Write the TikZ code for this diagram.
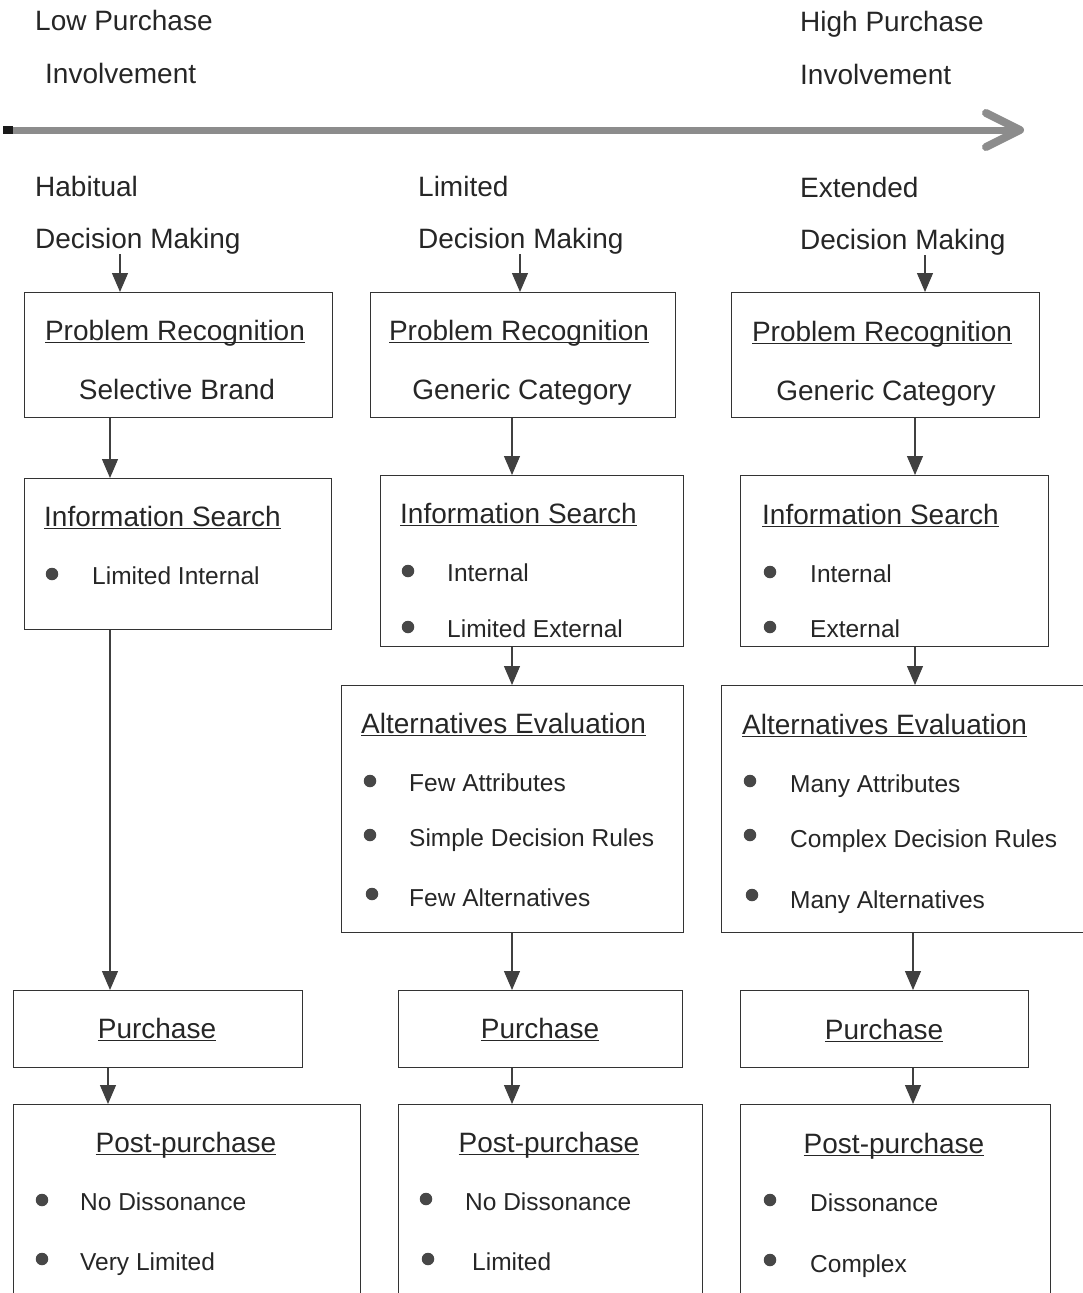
\documentclass[tikz,border=0pt]{standalone}
\usepackage{fontspec}
\setmainfont{Liberation Sans}
\usetikzlibrary{arrows.meta}
\newcommand{\ulin}[1]{\setbox0=\hbox{#1}\rlap{\rule[-3pt]{\wd0}{1.1pt}}\box0}
\tikzset{
  stagebox/.style = {shape=rectangle, draw=black!80, line width=1.3pt,
                     anchor=north west, inner sep=0pt},
  word/.style     = {anchor=west},
  item/.style     = {anchor=west, font=\fontsize{24.5}{30}\selectfont},
  head/.style     = {anchor=center},
  dot/.style      = {circle, fill=black!72, minimum size=12.5pt, inner sep=0pt,
                     text height=0pt, text depth=0pt},
  arr/.style      = {draw=black!75, line width=1.2pt,
                     -{Triangle[width=16pt,length=19pt]}}
}
\begin{document}
\begin{tikzpicture}
  [
    x = 1pt, y = -1pt,
    every node/.style = {font=\fontsize{28}{34}\selectfont, text=black!85,
                         inner sep=0pt, text height=20pt, text depth=6pt}
  ]
  \useasboundingbox (0,0) rectangle (1083,1293);
  \clip (0,0) rectangle (1083,1293);

  % involvement axis
  \node [word] (low1)  at (35,23)  {Low Purchase};
  \node [word] (low2)  at (45,76)  {Involvement};
  \node [word] (high1) at (800,24) {High Purchase};
  \node [word] (high2) at (800,77) {Involvement};
  \coordinate (axL) at (4,130);
  \coordinate (axR) at (1020,130);
  \draw [line width=7pt, black!45] (axL) -- (axR);
  \fill [black!90] (3,126) rectangle (13,134);
  \draw [line width=8pt, black!45, line cap=round, line join=round]
    (986,113) -- (axR) -- (986,147);

  % column heads
  \node [word] (hab1) at (35,189)  {Habitual};
  \node [word] (hab2) at (35,241)  {Decision Making};
  \node [word] (lim1) at (418,189) {Limited};
  \node [word] (lim2) at (418,241) {Decision Making};
  \node [word] (ext1) at (800,190) {Extended};
  \node [word] (ext2) at (800,242) {Decision Making};

  % habitual
  \node [stagebox, minimum width=308pt, minimum height=125pt] (pr1) at (24,292) {};
  \node [head] (pr1t) at (175,333) {\ulin{Problem Recognition}};
  \node [head] (pr1s) at (177,392) {Selective Brand};
  \node [stagebox, minimum width=307pt, minimum height=151pt] (is1) at (24,478) {};
  \node [word] (is1t) at (44,519) {\ulin{Information Search}};
  \node [dot]  (is1d1) at (52,574) {};
  \node [item] (is1a) at (92,577) {Limited Internal};
  \node [stagebox, minimum width=289pt, minimum height=77pt] (pu1) at (13,990) {};
  \node [head] (pu1t) at (157,1031) {\ulin{Purchase}};
  \node [stagebox, minimum width=347pt, minimum height=240pt] (pp1) at (13,1104) {};
  \node [head] (pp1t) at (186,1145) {\ulin{Post-purchase}};
  \node [dot]  (pp1d1) at (42,1200) {};
  \node [item] (pp1a) at (80,1203) {No Dissonance};
  \node [dot]  (pp1d2) at (42,1259) {};
  \node [item] (pp1b) at (80,1263) {Very Limited};

  % limited
  \node [stagebox, minimum width=305pt, minimum height=125pt] (pr2) at (370,292) {};
  \node [head] (pr2t) at (519,333) {\ulin{Problem Recognition}};
  \node [head] (pr2s) at (522,392) {Generic Category};
  \node [stagebox, minimum width=303pt, minimum height=171pt] (is2) at (380,475) {};
  \node [word] (is2t) at (400,516) {\ulin{Information Search}};
  \node [dot]  (is2d1) at (408,571) {};
  \node [item] (is2a) at (447,574) {Internal};
  \node [dot]  (is2d2) at (408,627) {};
  \node [item] (is2b) at (447,630) {Limited External};
  \node [stagebox, minimum width=342pt, minimum height=247pt] (ae2) at (341,685) {};
  \node [word] (ae2t) at (361,726) {\ulin{Alternatives Evaluation}};
  \node [dot]  (ae2d1) at (370,781) {};
  \node [item] (ae2a) at (409,784) {Few Attributes};
  \node [dot]  (ae2d2) at (370,835) {};
  \node [item] (ae2b) at (409,839) {Simple Decision Rules};
  \node [dot]  (ae2d3) at (372,894) {};
  \node [item] (ae2c) at (409,899) {Few Alternatives};
  \node [stagebox, minimum width=284pt, minimum height=77pt] (pu2) at (398,990) {};
  \node [head] (pu2t) at (540,1031) {\ulin{Purchase}};
  \node [stagebox, minimum width=304pt, minimum height=240pt] (pp2) at (398,1104) {};
  \node [head] (pp2t) at (549,1145) {\ulin{Post-purchase}};
  \node [dot]  (pp2d1) at (426,1199) {};
  \node [item] (pp2a) at (465,1203) {No Dissonance};
  \node [dot]  (pp2d2) at (428,1259) {};
  \node [item] (pp2b) at (472,1263) {Limited};

  % extended
  \node [stagebox, minimum width=308pt, minimum height=125pt] (pr3) at (731,292) {};
  \node [head] (pr3t) at (882,334) {\ulin{Problem Recognition}};
  \node [head] (pr3s) at (886,393) {Generic Category};
  \node [stagebox, minimum width=308pt, minimum height=171pt] (is3) at (740,475) {};
  \node [word] (is3t) at (762,517) {\ulin{Information Search}};
  \node [dot]  (is3d1) at (770,572) {};
  \node [item] (is3a) at (810,575) {Internal};
  \node [dot]  (is3d2) at (770,627) {};
  \node [item] (is3b) at (810,630) {External};
  \node [stagebox, minimum width=380pt, minimum height=247pt] (ae3) at (721,685) {};
  \node [word] (ae3t) at (742,727) {\ulin{Alternatives Evaluation}};
  \node [dot]  (ae3d1) at (750,781) {};
  \node [item] (ae3a) at (790,785) {Many Attributes};
  \node [dot]  (ae3d2) at (750,835) {};
  \node [item] (ae3b) at (790,840) {Complex Decision Rules};
  \node [dot]  (ae3d3) at (752,895) {};
  \node [item] (ae3c) at (790,901) {Many Alternatives};
  \node [stagebox, minimum width=288pt, minimum height=77pt] (pu3) at (740,990) {};
  \node [head] (pu3t) at (884,1032) {\ulin{Purchase}};
  \node [stagebox, minimum width=310pt, minimum height=240pt] (pp3) at (740,1104) {};
  \node [head] (pp3t) at (894,1146) {\ulin{Post-purchase}};
  \node [dot]  (pp3d1) at (770,1200) {};
  \node [item] (pp3a) at (810,1204) {Dissonance};
  \node [dot]  (pp3d2) at (770,1260) {};
  \node [item] (pp3b) at (810,1265) {Complex};

  % connector columns
  \coordinate (c1h) at (120,0);
  \coordinate (c1)  at (110,0);
  \coordinate (c1p) at (108,0);
  \coordinate (c2h) at (520,0);
  \coordinate (c2)  at (512,0);
  \coordinate (c3h) at (925,0);
  \coordinate (c3)  at (915,0);
  \coordinate (c3p) at (913,0);

  \draw [arr] (hab2.south -| c1h) -- (pr1.north -| c1h);
  \draw [arr] (pr1.south -| c1)   -- (is1.north -| c1);
  \draw [arr] (is1.south -| c1)   -- (pu1.north -| c1);
  \draw [arr] (pu1.south -| c1p)  -- (pp1.north -| c1p);

  \draw [arr] (lim2.south -| c2h) -- (pr2.north -| c2h);
  \draw [arr] (pr2.south -| c2)   -- (is2.north -| c2);
  \draw [arr] (is2.south -| c2)   -- (ae2.north -| c2);
  \draw [arr] (ae2.south -| c2)   -- (pu2.north -| c2);
  \draw [arr] (pu2.south -| c2)   -- (pp2.north -| c2);

  \draw [arr] (ext2.south -| c3h) -- (pr3.north -| c3h);
  \draw [arr] (pr3.south -| c3)   -- (is3.north -| c3);
  \draw [arr] (is3.south -| c3)   -- (ae3.north -| c3);
  \draw [arr] (ae3.south -| c3p)  -- (pu3.north -| c3p);
  \draw [arr] (pu3.south -| c3p)  -- (pp3.north -| c3p);
\end{tikzpicture}
\end{document}
